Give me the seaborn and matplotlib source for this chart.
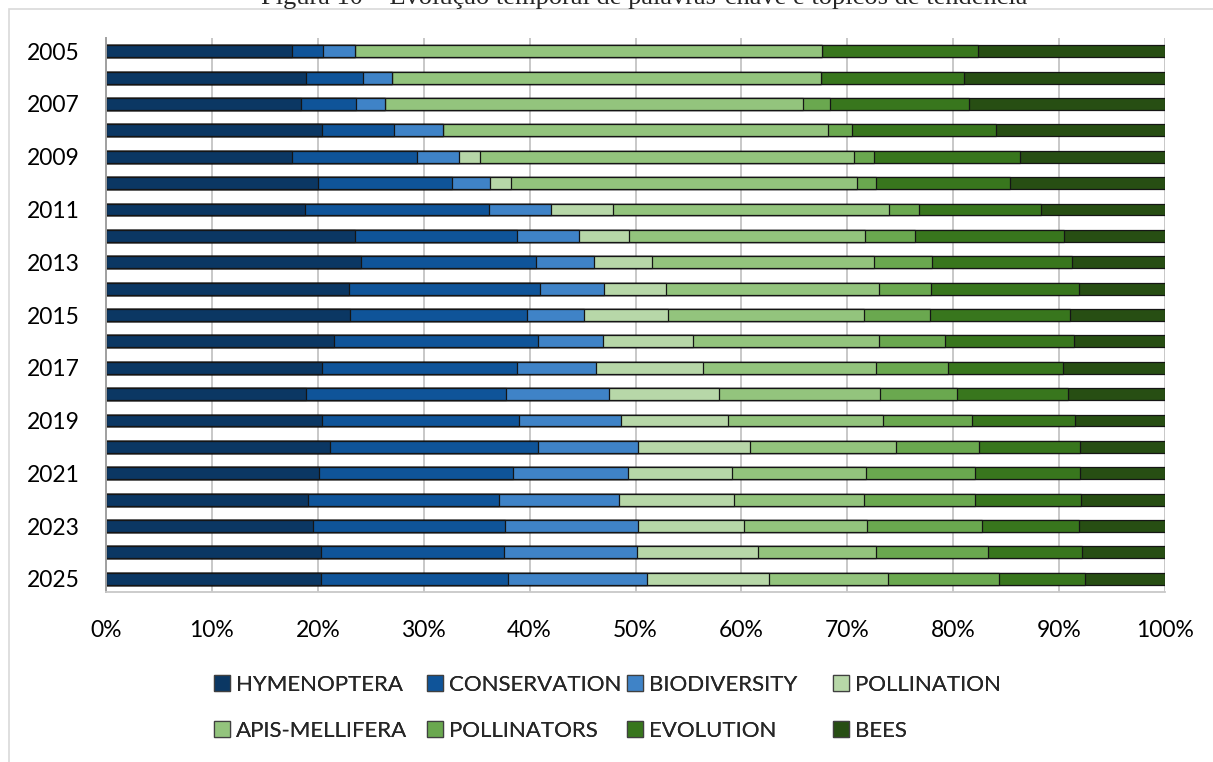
import numpy as np
import pandas as pd
import matplotlib
matplotlib.use("Agg")
import matplotlib.pyplot as plt
import seaborn as sns
from matplotlib.patches import Patch, Rectangle

# Share of each keyword per year (percent of the year's total)
years = [str(y) for y in range(2005, 2026)]
hymenoptera    = [17.6, 18.9, 18.4, 20.4, 17.6, 20.0, 18.8, 23.5, 24.1, 22.9, 23.0,
                  21.5, 20.4, 18.9, 20.4, 21.1, 20.1, 19.1, 19.5, 20.3, 20.3]
conservation   = [2.9, 5.4, 5.2, 6.8, 11.8, 12.7, 17.4, 15.3, 16.5, 18.05, 16.8,
                  19.25, 18.4, 18.9, 18.6, 19.65, 18.35, 18.0, 18.2, 17.3, 17.7]
biodiversity   = [3.0, 2.7, 2.7, 4.6, 3.9, 3.6, 5.8, 5.9, 5.5, 6.05, 5.3,
                  6.15, 7.5, 9.7, 9.6, 9.5, 10.85, 11.3, 12.5, 12.5, 13.1]
pollination    = [0.0, 0.0, 0.0, 0.0, 2.0, 1.9, 5.9, 4.7, 5.5, 5.9, 8.0,
                  8.5, 10.1, 10.4, 10.1, 10.5, 9.8, 10.9, 10.0, 11.5, 11.5]
apis_mellifera = [44.1, 40.5, 39.5, 36.4, 35.3, 32.7, 26.0, 22.3, 20.9, 20.1, 18.5,
                  17.6, 16.35, 15.2, 14.7, 13.8, 12.7, 12.3, 11.7, 11.1, 11.2]
pollinators    = [0.0, 0.0, 2.6, 2.2, 1.9, 1.8, 2.9, 4.7, 5.5, 4.9, 6.2,
                  6.2, 6.75, 7.3, 8.4, 7.8, 10.3, 10.5, 10.8, 10.6, 10.5]
evolution      = [14.7, 13.5, 13.1, 13.6, 13.8, 12.7, 11.5, 14.1, 13.2, 14.0, 13.2,
                  12.2, 10.9, 10.4, 9.7, 9.6, 9.9, 10.0, 9.2, 8.9, 8.1]
bees           = [17.7, 19.0, 18.5, 16.0, 13.7, 14.6, 11.7, 9.5, 8.8, 8.1, 9.0,
                  8.6, 9.6, 9.2, 8.5, 8.0, 8.0, 7.9, 8.1, 7.8, 7.6]

series_names = ["HYMENOPTERA", "CONSERVATION", "BIODIVERSITY", "POLLINATION",
                "APIS-MELLIFERA", "POLLINATORS", "EVOLUTION", "BEES"]
series_values = [hymenoptera, conservation, biodiversity, pollination,
                 apis_mellifera, pollinators, evolution, bees]
series_colors = ["#0b3763", "#0f5499", "#3f83c7", "#b7d7a8",
                 "#93c47d", "#6aa84f", "#38761d", "#274e13"]
x_ticks = [0, 10, 20, 30, 40, 50, 60, 70, 80, 90, 100]
x_tick_labels = [f"{t}%" for t in x_ticks]

df = pd.DataFrame(dict(zip(series_names, series_values)), index=years)
shares = df.div(df.sum(axis=1), axis=0) * 100
cumulative = shares.cumsum(axis=1)

sns.set_theme(style="white")
plt.rcParams["font.family"] = ["Lato", "DejaVu Sans"]

fig = plt.figure(figsize=(12.13, 7.62), dpi=100)
ax = fig.add_axes([106 / 1213, 1 - 592 / 762, (1165 - 106) / 1213, (592 - 38) / 762])

# Stacked 100% bars: draw the running totals from the outermost series inward
for name, color in reversed(list(zip(series_names, series_colors))):
    plot_df = pd.DataFrame({"year": years, "value": cumulative[name].values})
    sns.barplot(data=plot_df, x="value", y="year", orient="h", color=color,
                saturation=1, width=0.45, edgecolor="#151515", linewidth=0.9,
                ax=ax, zorder=2)

ax.set_xlim(0, 100)
ax.set_xticks(x_ticks)
ax.set_xticklabels(x_tick_labels)
ax.set_yticks(range(len(years)))
ax.set_yticklabels([y if i % 2 == 0 else "" for i, y in enumerate(years)])
ax.set_xlabel("")
ax.set_ylabel("")
ax.tick_params(axis="both", length=0, labelsize=16.5, colors="#000000")
ax.tick_params(axis="x", pad=20)
ax.tick_params(axis="y", pad=19)

ax.xaxis.grid(True, color="#c4c4c4", linewidth=1.3, zorder=0)
ax.yaxis.grid(False)
ax.set_axisbelow(True)
for side in ["top", "right"]:
    ax.spines[side].set_visible(False)
ax.spines["left"].set_color("#a0a0a0")
ax.spines["left"].set_linewidth(1.4)
ax.spines["bottom"].set_color("#c8c8c8")
ax.spines["bottom"].set_linewidth(1.3)

# Legend: two rows of four entries
col_x = [214, 427, 627, 833]
row_y = [685, 731]
for i, (name, color) in enumerate(zip(series_names, series_colors)):
    handle = Patch(facecolor=color, edgecolor="#404040", linewidth=0.9)
    leg = fig.legend(handles=[handle], labels=[name], loc="center left",
                     bbox_to_anchor=(col_x[i % 4] / 1213, 1 - row_y[i // 4] / 762),
                     frameon=False, fontsize=16, handlelength=0.7, handleheight=0.7,
                     handletextpad=0.3, borderpad=0, borderaxespad=0)
    fig.add_artist(leg)

# Outer chart frame
fig.add_artist(Rectangle((9 / 1213, -0.1), 1.2, 1 - 9 / 762 + 0.1,
                         transform=fig.transFigure, fill=False,
                         edgecolor="#d9d9d9", linewidth=1.2, clip_on=False))

# Caption above the chart
fig.text(644 / 1213, 1 - 4 / 762,
         "Figura 10 – Evolução temporal de palavras-chave e tópicos de tendência",
         ha="center", va="baseline", fontsize=19, family="Liberation Serif")

fig.savefig("out.png", dpi=100)
